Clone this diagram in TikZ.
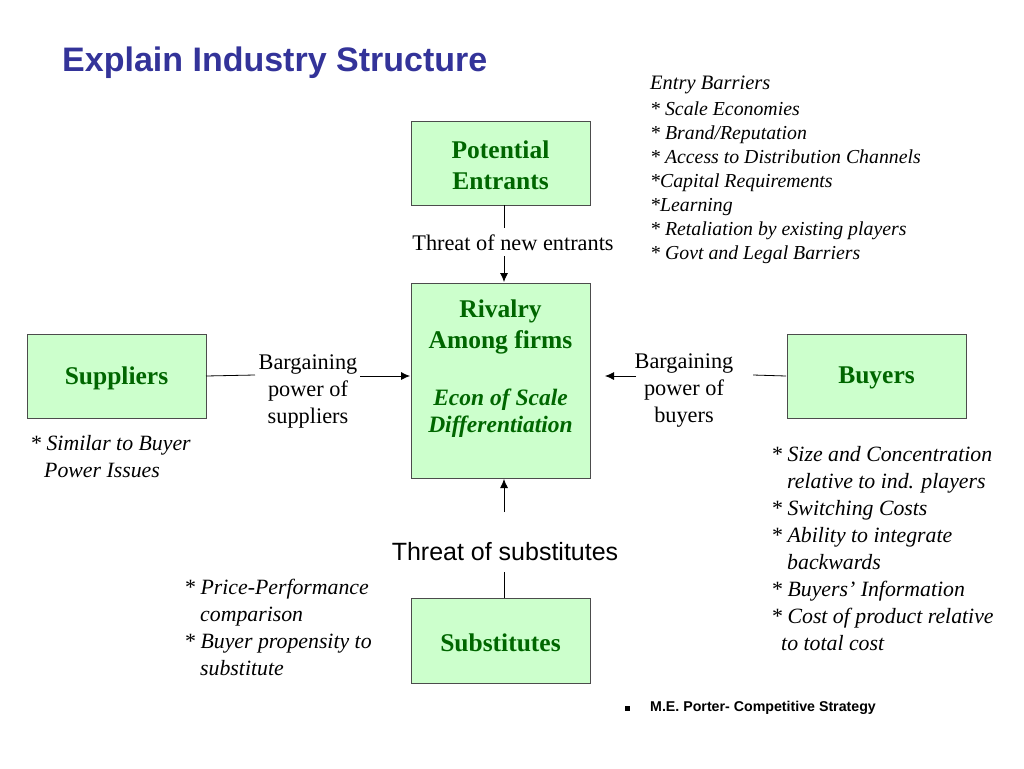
\documentclass[tikz,border=0pt]{standalone}
\usepackage{fontspec}
\setmainfont{Liberation Serif}
\newfontfamily\sff{Liberation Sans}
\usetikzlibrary{arrows.meta}
\definecolor{boxfill}{RGB}{204,255,204}
\definecolor{dgreen}{RGB}{0,102,0}
\definecolor{titleblue}{RGB}{51,51,153}
\begin{document}
\begin{tikzpicture}[x=1pt,y=-1pt,
  box/.style={draw=black!70,fill=boxfill,line width=0.8pt,inner sep=0pt},
  bt/.style={text=dgreen,font=\fontsize{25.5}{31}\selectfont\bfseries,align=center},
  lab/.style={font=\fontsize{22.3}{27}\selectfont,align=center,inner sep=1pt},
  it/.style={font=\fontsize{21.8}{27}\selectfont\itshape,align=left,anchor=north west,inner sep=0pt},
  con/.style={line width=0.8pt},
  arr/.style={line width=0.8pt,-{Latex[length=9pt,width=8pt]}}]
\useasboundingbox (0,0) rectangle (1024,768);
\node[anchor=west,text=titleblue,font=\sff\fontsize{34}{40}\selectfont\bfseries,inner sep=0pt] (title) at (62,63) {Explain Industry Structure};
% boxes
\draw[box] (411,121) rectangle (590,205);
\node[bt] (pe) at (500.5,165) {Potential\\Entrants};
\draw[box] (411,283) rectangle (590,478);
\node[bt,anchor=north] (rv) at (500.5,296) {Rivalry\\Among firms};
\node[bt,font=\fontsize{23.5}{27}\selectfont\bfseries\itshape] (rvi) at (500.5,413) {Econ of Scale\\Differentiation};
\draw[box] (27,334) rectangle (206,418);
\node[bt] (su) at (116.5,378) {Suppliers};
\draw[box] (787,334) rectangle (966,418);
\node[bt] (bu) at (876.5,378) {Buyers};
\draw[box] (411,598) rectangle (590,683);
\node[bt] (sb) at (500.5,643) {Substitutes};
% named anchor coords
\coordinate (peS) at (504,205);
\coordinate (rvN) at (504,282);
\coordinate (rvW) at (410,376);
\coordinate (rvE) at (605,376);
\coordinate (rvS) at (504,479);
\coordinate (suE) at (206,376);
\coordinate (buW) at (786,376);
\coordinate (sbN) at (504,598);
% labels
\node[lab] (tne) at (513,243) {Threat of new entrants};
\node[lab] (bps) at (308,391) {Bargaining\\power of\\suppliers};
\node[lab] (bpb) at (684,391) {Bargaining\\power of\\buyers};
\node[lab,font=\sff\fontsize{25}{30}\selectfont] (ts) at (505,552) {Threat of substitutes};
% connectors
\draw[con] (peS) -- (504,228);
\draw[arr] (504,256) -- (rvN);
\draw[con] (suE) -- (255,375);
\draw[arr] (360,376) -- (rvW);
\draw[con] (buW) -- (753,375);
\draw[arr] (636,376) -- (rvE);
\draw[con] (sbN) -- (504,572);
\draw[arr] (504,512) -- (rvS);
% texts
\node[it,font=\fontsize{20.5}{26}\selectfont\itshape] (eb) at (650,76) {Entry Barriers};
\node[it,font=\fontsize{19.8}{24}\selectfont\itshape] (ebl) at (650,102) {* Scale Economies\\* Brand/Reputation\\* Access to Distribution Channels\\*Capital Requirements\\*Learning\\* Retaliation by existing players\\* Govt and Legal Barriers};
\node[it] (sbi) at (30,435) {* Similar to Buyer\\\hspace*{14pt}Power Issues};
\node[it] (bui) at (771,446) {* Size and Concentration\\\hspace*{16pt}relative to ind. players\\* Switching Costs\\* Ability to integrate\\\hspace*{16pt}backwards\\* Buyers' Information\\* Cost of product relative\\\hspace*{10pt}to total cost};
\node[it] (sui) at (184,579) {* Price-Performance\\\hspace*{16pt}comparison\\* Buyer propensity to\\\hspace*{16pt}substitute};
\fill (624.5,705.5) rectangle (629.5,710.5);
\node[anchor=west,font=\sff\fontsize{14.2}{16}\selectfont\bfseries,inner sep=0pt] (ft) at (650,708) {M.E. Porter- Competitive Strategy};
\end{tikzpicture}
\end{document}
